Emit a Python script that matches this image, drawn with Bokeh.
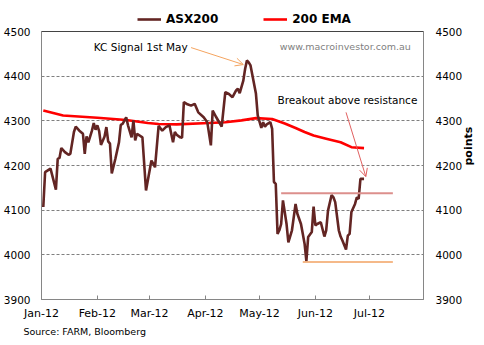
import math
import pandas as pd
from bokeh.plotting import figure
from bokeh.layouts import column
from bokeh.models import (Range1d, LinearAxis, FixedTicker, DatetimeTickFormatter,
                          Legend, LegendItem, Span, Label, Arrow, OpenHead, Title)
from bokeh.embed import file_html
from bokeh.resources import INLINE

# ---------------- data ----------------
asx_dates = [
    "2012-01-02", "2012-01-03", "2012-01-06", "2012-01-09", "2012-01-10", "2012-01-11",
    "2012-01-12", "2012-01-14", "2012-01-16", "2012-01-17", "2012-01-19", "2012-01-20",
    "2012-01-22", "2012-01-24", "2012-01-25", "2012-01-26", "2012-01-27", "2012-01-29",
    "2012-01-30", "2012-01-31", "2012-02-01", "2012-02-02", "2012-02-03", "2012-02-05",
    "2012-02-06", "2012-02-07", "2012-02-08", "2012-02-09", "2012-02-11", "2012-02-13",
    "2012-02-14", "2012-02-15", "2012-02-17", "2012-02-18", "2012-02-20", "2012-02-21",
    "2012-02-22", "2012-02-23", "2012-02-26", "2012-02-28", "2012-03-02", "2012-03-03",
    "2012-03-04", "2012-03-06", "2012-03-08", "2012-03-10", "2012-03-12", "2012-03-14",
    "2012-03-15", "2012-03-16", "2012-03-18", "2012-03-19", "2012-03-20", "2012-03-22",
    "2012-03-24", "2012-03-26", "2012-03-28", "2012-03-31", "2012-04-02", "2012-04-04",
    "2012-04-05", "2012-04-07", "2012-04-10", "2012-04-12", "2012-04-14", "2012-04-16",
    "2012-04-18", "2012-04-19", "2012-04-20", "2012-04-22", "2012-04-23", "2012-04-24",
    "2012-04-25", "2012-04-26", "2012-04-29", "2012-04-30", "2012-05-02", "2012-05-03",
    "2012-05-04", "2012-05-05", "2012-05-07", "2012-05-08", "2012-05-09", "2012-05-10",
    "2012-05-11", "2012-05-12", "2012-05-13", "2012-05-14", "2012-05-16", "2012-05-17",
    "2012-05-19", "2012-05-21", "2012-05-22", "2012-05-24", "2012-05-25", "2012-05-26",
    "2012-05-27", "2012-05-28", "2012-05-30", "2012-05-31", "2012-06-01", "2012-06-02",
    "2012-06-04", "2012-06-06", "2012-06-07", "2012-06-08", "2012-06-10", "2012-06-11",
    "2012-06-12", "2012-06-14", "2012-06-15", "2012-06-16", "2012-06-18", "2012-06-19",
    "2012-06-20", "2012-06-21", "2012-06-23", "2012-06-24", "2012-06-25", "2012-06-26",
    "2012-06-28",
]
asx_values = [
    4107, 4185, 4193, 4146, 4215, 4217,
    4239, 4230, 4224, 4226, 4275, 4287,
    4278, 4271, 4226, 4265, 4252, 4278,
    4295, 4280, 4290, 4277, 4246, 4265,
    4286, 4254, 4249, 4182, 4215, 4252,
    4291, 4293, 4308, 4290, 4263, 4301,
    4256, 4271, 4263, 4144, 4211, 4204,
    4196, 4289, 4278, 4286, 4290, 4252,
    4275, 4269, 4263, 4262, 4342, 4337,
    4334, 4338, 4319, 4308, 4297, 4245,
    4323, 4308, 4287, 4364, 4360, 4353,
    4368, 4372, 4362, 4390, 4416, 4435,
    4431, 4424, 4361, 4312, 4284, 4297,
    4287, 4292, 4297, 4282, 4163, 4159,
    4047, 4055, 4069, 4122, 4069, 4028,
    4055, 4114, 4092, 4069, 4047, 4025,
    3986, 4040, 4051, 4108, 4066, 4069,
    4073, 4041, 4055, 4099, 4134, 4129,
    4118, 4055, 4041, 4032, 4012, 4043,
    4047, 4096, 4114, 4129, 4125, 4170,
    4170,
]
ema_dates = [
    "2012-01-02", "2012-01-13", "2012-02-01", "2012-02-17", "2012-02-29", "2012-03-06",
    "2012-03-16", "2012-04-03", "2012-04-12", "2012-04-21", "2012-04-29", "2012-05-08",
    "2012-05-15", "2012-05-21", "2012-05-26", "2012-05-31", "2012-06-07", "2012-06-15",
    "2012-06-21", "2012-06-28",
]
ema_values = [
    4323, 4312, 4307, 4302, 4295, 4293,
    4292, 4295, 4297, 4301, 4306, 4304,
    4294, 4284, 4275, 4267, 4260, 4252,
    4241, 4239,
]
resistance_dates = ["2012-05-13", "2012-07-14"]
resistance_values = [4138, 4138]
support_dates = ["2012-05-25", "2012-07-14"]
support_values = [3984, 3984]

month_ticks = ["2012-01-01", "2012-02-01", "2012-03-01", "2012-04-01",
               "2012-05-01", "2012-06-01", "2012-07-01"]
y_ticks = [3900, 4000, 4100, 4200, 4300, 4400, 4500]
grid_ticks = [4000, 4100, 4200, 4300, 4400]
series_names = ["ASX200", "200 EMA"]
series_colors = ["#632523", "#ff0000"]


def ms(d):
    return pd.Timestamp(d).value / 1e6


FONT = "DejaVu Sans"
GRAY = "#868686"

asx_x = pd.to_datetime(asx_dates)
ema_x = pd.to_datetime(ema_dates)

# ---------------- legend strip (top) ----------------
# the strip's ranges do not contain the data, so only the legend is visible
leg_fig = figure(width=484, height=26, output_backend="svg", toolbar_location=None,
                 x_axis_location=None, y_axis_location=None,
                 x_range=Range1d(0, 1), y_range=Range1d(0, 1))
leg_fig.min_border = 0
leg_fig.min_border_left = 0
leg_fig.min_border_right = 0
leg_fig.min_border_top = 0
leg_fig.min_border_bottom = 0
leg_fig.outline_line_color = None
leg_fig.grid.visible = False
leg_asx = leg_fig.line(asx_x, asx_values, line_color=series_colors[0], line_width=2.6)
leg_ema = leg_fig.line(ema_x, ema_values, line_color=series_colors[1], line_width=2.6)
legend = Legend(items=[LegendItem(label=series_names[0], renderers=[leg_asx]),
                       LegendItem(label=series_names[1], renderers=[leg_ema])],
                orientation="horizontal", location=(96, 0),
                label_text_font=FONT, label_text_font_size="12px",
                label_text_font_style="bold", label_text_color="black",
                glyph_width=24, glyph_height=10, label_height=10,
                label_standoff=5, spacing=45, padding=0, margin=0,
                border_line_alpha=0, background_fill_alpha=0)
leg_fig.add_layout(legend)

# ---------------- main chart ----------------
p = figure(width=484, height=319, x_axis_type="datetime",
           output_backend="svg", toolbar_location=None,
           x_range=Range1d(ms("2012-01-01"), ms("2012-07-31")),
           y_range=Range1d(3900, 4500))
p.min_border_left = 41
p.min_border_right = 57
p.min_border_top = 5
p.min_border_bottom = 46
p.outline_line_color = GRAY
p.background_fill_color = "white"
p.border_fill_color = "white"

# grid
p.xgrid.grid_line_color = None
p.ygrid.ticker = FixedTicker(ticks=grid_ticks)
p.ygrid.grid_line_color = "#7f7f7f"
p.ygrid.grid_line_dash = "3 2"
p.ygrid.grid_line_width = 1

# x axis
xa = p.xaxis[0]
xa.ticker = FixedTicker(ticks=[ms(d) for d in month_ticks])
xa.formatter = DatetimeTickFormatter(days="%b-%y", months="%b-%y", years="%b-%y",
                                     hours="%b-%y", minutes="%b-%y")
xa.major_tick_in = 4
xa.major_tick_out = 0
xa.minor_tick_line_color = None
xa.major_tick_line_color = GRAY
xa.axis_line_color = GRAY
xa.major_label_text_font = FONT
xa.major_label_text_font_size = "11px"
xa.major_label_text_color = "black"
xa.major_label_standoff = 7

# left axis
ya = p.yaxis[0]
ya.ticker = FixedTicker(ticks=y_ticks)
ya.major_tick_line_color = None
ya.minor_tick_line_color = None
ya.major_tick_out = 0
ya.axis_line_color = GRAY
ya.major_label_text_font = FONT
ya.major_label_text_font_size = "10.5px"
ya.major_label_text_color = "black"
ya.major_label_standoff = 11

# right axis
p.extra_y_ranges = {"right": Range1d(3900, 4500)}
ra = LinearAxis(y_range_name="right", axis_label="points", ticker=FixedTicker(ticks=y_ticks))
ra.major_tick_line_color = None
ra.minor_tick_line_color = None
ra.major_tick_out = 0
ra.axis_line_color = GRAY
ra.major_label_text_font = FONT
ra.major_label_text_font_size = "10.5px"
ra.major_label_text_color = "black"
ra.major_label_standoff = 12
ra.axis_label_text_font = FONT
ra.axis_label_text_font_size = "11px"
ra.axis_label_text_font_style = "bold"
ra.axis_label_text_color = "black"
ra.axis_label_standoff = 3
ra.axis_label_orientation = math.pi / 2
p.add_layout(ra, "right")

# top border black
p.add_layout(Span(location=4500, dimension="width", line_color="black", line_width=1))

# series
p.line(ema_x, ema_values, line_color=series_colors[1], line_width=2.6)
p.line(asx_x, asx_values, line_color=series_colors[0], line_width=2.6)
p.line(pd.to_datetime(resistance_dates), resistance_values, line_color="#dc8f8c", line_width=2)
p.line(pd.to_datetime(support_dates), support_values, line_color="#f2a262", line_width=1.5)

# annotations
p.add_layout(Label(x=ms("2012-01-30"), y=4466, text="KC Signal 1st May",
                   text_font=FONT, text_font_size="10.5px", text_baseline="middle",
                   text_align="left", text_color="black"))
p.add_layout(Arrow(end=OpenHead(size=8, line_color="#f4a460", line_width=1),
                   x_start=ms("2012-03-24"), y_start=4464,
                   x_end=ms("2012-04-22"), y_end=4426,
                   line_color="#f4a460", line_width=1))
p.add_layout(Label(x=ms("2012-07-24"), y=4466, text="www.macroinvestor.com.au",
                   text_font=FONT, text_font_size="9.5px", text_baseline="middle",
                   text_align="right", text_color="#7f7f7f"))
p.add_layout(Label(x=ms("2012-05-11"), y=4346, text="Breakout above resistance",
                   text_font=FONT, text_font_size="10.5px", text_baseline="middle",
                   text_align="left", text_color="black"))
p.add_layout(Arrow(end=OpenHead(size=8, line_color="#e06060", line_width=1),
                   x_start=ms("2012-06-18"), y_start=4319,
                   x_end=ms("2012-06-29"), y_end=4175,
                   line_color="#e06060", line_width=1))

# source
p.add_layout(Title(text="Source: FARM, Bloomberg", align="left", offset=-18, standoff=2,
                   text_font=FONT, text_font_size="9.5px", text_font_style="normal",
                   text_color="black"), "below")

layout = column(leg_fig, p, spacing=0)
open("out.html", "w").write(file_html(layout, INLINE))
